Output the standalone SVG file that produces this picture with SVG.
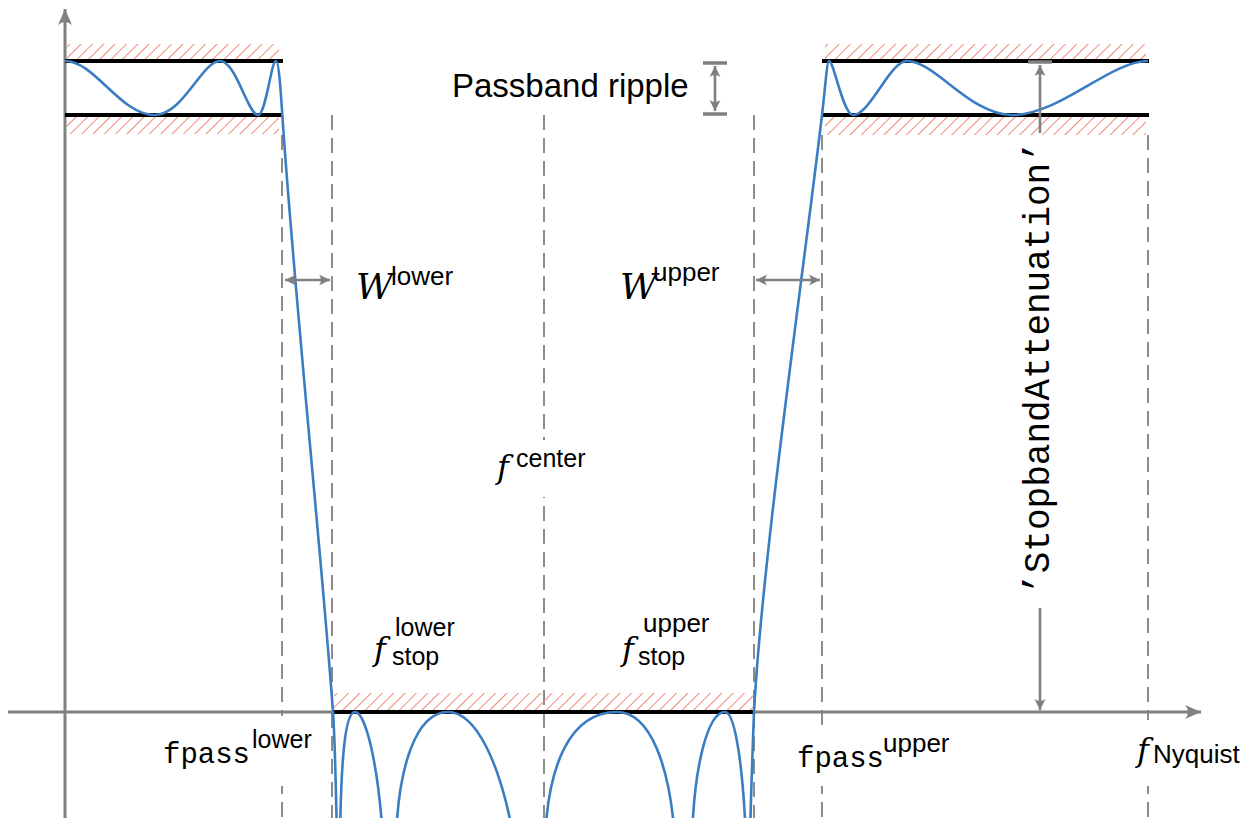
<svg xmlns="http://www.w3.org/2000/svg" width="1245" height="818" viewBox="0 0 1245 818">
  <style>
    .axis { stroke: #808080; stroke-width: 3; fill: none; }
    .dash { stroke: #8c8c8c; stroke-width: 2; stroke-dasharray: 15 8; fill: none; }
    .spec { stroke: #000; stroke-width: 4; fill: none; }
    .resp { stroke: #3b7dc3; stroke-width: 2.6; fill: none; stroke-linejoin: round; }
    .dim { stroke: #808080; stroke-width: 2.6; fill: none; }
    .bar { stroke: #808080; stroke-width: 3.5; fill: none; }
    .sans { font-family: "Liberation Sans", Arial, sans-serif; fill: #000; }
    .ital { font-family: "DejaVu Serif", "Liberation Serif", serif; font-style: italic; fill: #000; }
    .mono { font-family: "Liberation Mono", "Courier New", monospace; fill: #000; }
    .bg { fill: #fff; stroke: none; }
  </style>
  <defs>
    <pattern id="hatch" width="8" height="8" patternUnits="userSpaceOnUse" patternTransform="rotate(45)">
      <line x1="0" y1="0" x2="0" y2="8" stroke="#ee8a76" stroke-width="2"/>
    </pattern>
    <marker id="axah" viewBox="-18 -9 20 18" refX="0" refY="0" markerWidth="20" markerHeight="18" markerUnits="userSpaceOnUse" orient="auto">
      <path d="M0,0 L-16,-7 Q-10,0 -16,7 Z" fill="#808080"/>
    </marker>
    <marker id="ah" viewBox="-13 -7 15 14" refX="0" refY="0" markerWidth="15" markerHeight="14" markerUnits="userSpaceOnUse" orient="auto-start-reverse">
      <path d="M0,0 L-11,-5.5 Q-7,0 -11,5.5 Z" fill="#808080"/>
    </marker>
  </defs>
  <rect x="0" y="0" width="1245" height="818" fill="#fff"/>

  <g id="guides">
    <line class="dash" x1="282" y1="135" x2="282" y2="818"/>
    <line class="dash" x1="332" y1="115" x2="332" y2="818"/>
    <line class="dash" x1="544" y1="115" x2="544" y2="818"/>
    <line class="dash" x1="754" y1="115" x2="754" y2="818"/>
    <line class="dash" x1="822" y1="135" x2="822" y2="818"/>
    <line class="dash" x1="1148" y1="135" x2="1148" y2="818"/>
  </g>

  <g id="axes">
    <line class="axis" x1="65" y1="818" x2="65" y2="9" marker-end="url(#axah)"/>
    <line class="axis" x1="8" y1="712" x2="1201" y2="712" marker-end="url(#axah)"/>
  </g>

  <g id="hatching">
    <rect x="67" y="44" width="212" height="17" fill="url(#hatch)"/>
    <rect x="67" y="115" width="212" height="19" fill="url(#hatch)"/>
    <rect x="825" y="44" width="321" height="17" fill="url(#hatch)"/>
    <rect x="825" y="115" width="321" height="20" fill="url(#hatch)"/>
    <rect x="334" y="693" width="420" height="19" fill="url(#hatch)"/>
  </g>

  <g id="spec-lines">
    <line class="spec" x1="65" y1="61" x2="283" y2="61"/>
    <line class="spec" x1="65" y1="115" x2="283" y2="115"/>
    <line class="spec" x1="822" y1="61" x2="1149" y2="61"/>
    <line class="spec" x1="822" y1="115" x2="1149" y2="115"/>
    <line class="spec" x1="333" y1="712" x2="755" y2="712"/>
  </g>

  <g id="response">
    <path class="resp" d="M65,61 C95,61 120,115 155,115 C183,115 202,61 220,61 C236,61 248,115 258,115 C266,115 271,61 276,61 C279,61 281,95 283,125 C295,300 322,560 333,712 C335,740 336,790 337,840"/>
    <path class="resp" d="M340,840 C341,760 345,712 355,712 C365,712 378,760 383,840"/>
    <path class="resp" d="M396,840 C398,770 415,712 448,712 C475,712 500,760 514,840"/>
    <path class="resp" d="M545,840 C548,765 570,712 617,712 C650,712 670,765 675,840"/>
    <path class="resp" d="M692,840 C694,765 708,712 725,712 C735,712 743,765 746,840"/>
    <path class="resp" d="M750,840 C751,790 753,740 754,712 C762,560 805,260 822,115 C825,90 827,61 829,61 C834,61 843,115 853,115 C870,115 890,61 907,61 C935,61 970,115 1012,115 C1060,115 1110,61 1148,61"/>
  </g>

  <g id="connectors">
    <line class="dim" x1="285" y1="280" x2="330" y2="280" marker-start="url(#ah)" marker-end="url(#ah)"/>
    <line class="dim" x1="756" y1="280" x2="820" y2="280" marker-start="url(#ah)" marker-end="url(#ah)"/>
    <line class="bar" x1="703" y1="63" x2="727" y2="63"/>
    <line class="bar" x1="703" y1="114" x2="727" y2="114"/>
    <line class="dim" x1="715" y1="66" x2="715" y2="111" marker-start="url(#ah)" marker-end="url(#ah)"/>
    <line class="bar" x1="1028" y1="62" x2="1052" y2="62"/>
    <line class="dim" x1="1040" y1="133" x2="1040" y2="65" marker-end="url(#ah)"/>
    <line class="dim" x1="1040" y1="608" x2="1040" y2="710" marker-end="url(#ah)"/>
  </g>

  <g id="label-passband-ripple">
    <text class="sans" x="452" y="97" font-size="33">Passband ripple</text>
  </g>

  <g id="label-w-lower">
    <text class="ital" x="356" y="299" font-size="36">W</text>
    <text class="sans" x="391" y="285" font-size="26">lower</text>
  </g>

  <g id="label-w-upper">
    <text class="ital" x="620" y="299" font-size="36">W</text>
    <text class="sans" x="653" y="281" font-size="26">upper</text>
  </g>

  <g id="label-f-center">
    <rect class="bg" x="478" y="440" width="120" height="57"/>
    <text class="ital" x="497" y="478" font-size="32">f</text>
    <text class="sans" x="516" y="467" font-size="25">center</text>
  </g>

  <g id="label-fstop-lower">
    <text class="ital" x="374" y="660" font-size="32">f</text>
    <text class="sans" x="395" y="636" font-size="25">lower</text>
    <text class="sans" x="392" y="665" font-size="25">stop</text>
  </g>

  <g id="label-fstop-upper">
    <text class="ital" x="622" y="660" font-size="32">f</text>
    <text class="sans" x="643" y="632" font-size="26">upper</text>
    <text class="sans" x="638" y="665" font-size="25">stop</text>
  </g>

  <g id="label-fpass-lower">
    <rect class="bg" x="155" y="716" width="168" height="70"/>
    <text class="mono" x="163" y="763" font-size="29">fpass</text>
    <text class="sans" x="252" y="748" font-size="25">lower</text>
  </g>

  <g id="label-fpass-upper">
    <rect class="bg" x="790" y="728" width="170" height="58"/>
    <text class="mono" x="797" y="767" font-size="29">fpass</text>
    <text class="sans" x="883" y="752" font-size="26">upper</text>
  </g>

  <g id="label-f-nyquist">
    <rect class="bg" x="1128" y="720" width="117" height="66"/>
    <text class="ital" x="1137" y="761" font-size="32">f</text>
    <text class="sans" x="1153" y="763" font-size="26">Nyquist</text>
  </g>

  <g id="label-stopband-attenuation">
    <text class="mono" font-size="36" text-anchor="middle" transform="translate(1049,368) rotate(-90)">’StopbandAttenuation’</text>
  </g>
</svg>
